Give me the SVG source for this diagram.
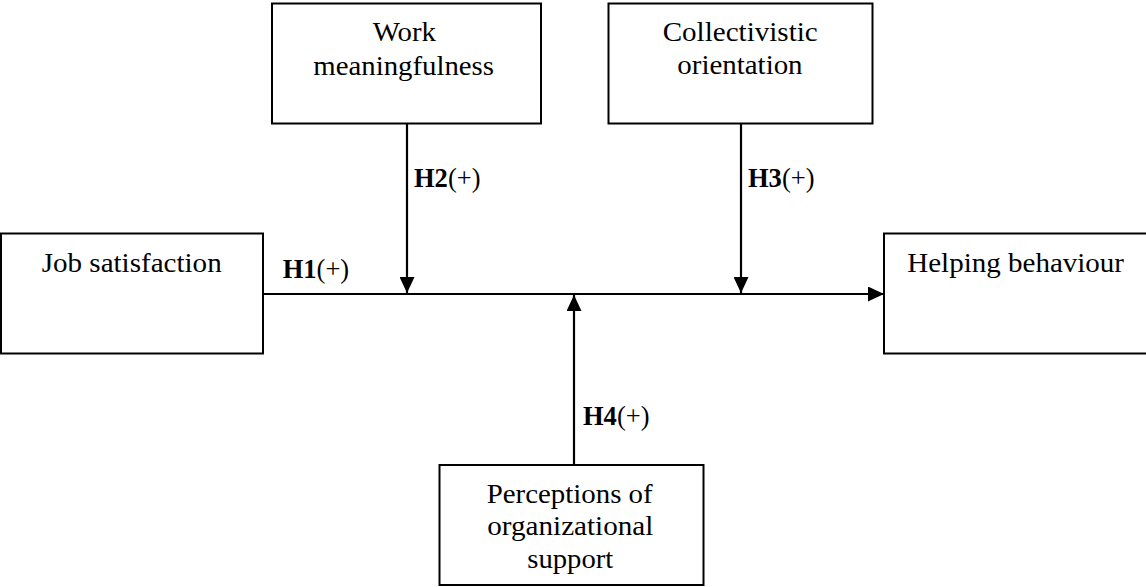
<svg xmlns="http://www.w3.org/2000/svg" width="1146" height="587" viewBox="0 0 1146 587">
<defs>
<style>
.box{fill:#fff;stroke:#000;stroke-width:2}
.t{font-family:"Liberation Serif","Times New Roman",serif;font-size:26.5px;fill:#000}
.lbl{font-family:"Liberation Serif","Times New Roman",serif;font-size:26.5px;fill:#000}
.b{font-weight:bold}
.edge{stroke:#000;stroke-width:2.2;fill:none;marker-end:url(#arr)}
</style>
<marker id="arr" markerUnits="userSpaceOnUse" markerWidth="16" markerHeight="15" refX="16" refY="7.5" orient="auto">
<path d="M0,0 L16,7.5 L0,15 z" fill="#000"/>
</marker>
</defs>
<rect width="1146" height="587" fill="#fff"/>
<g id="connectors">
<line class="edge" x1="263" y1="294" x2="884" y2="294"/>
<line class="edge" x1="407" y1="124" x2="407" y2="293"/>
<line class="edge" x1="741" y1="124" x2="741" y2="293"/>
<line class="edge" x1="574" y1="464" x2="574" y2="295"/>
<text class="lbl" x="282.7" y="278"><tspan class="b">H1</tspan>(+)</text>
<text class="lbl" x="414" y="187"><tspan class="b">H2</tspan>(+)</text>
<text class="lbl" x="748" y="187"><tspan class="b">H3</tspan>(+)</text>
<text class="lbl" x="583" y="425"><tspan class="b">H4</tspan>(+)</text>
</g>
<g id="work">
<rect class="box" x="272" y="3.5" width="269" height="120"/>
<text class="t" x="372.7" y="40.7" textLength="63.3" lengthAdjust="spacingAndGlyphs">Work</text>
<text class="t" x="313.3" y="75" textLength="180.7" lengthAdjust="spacingAndGlyphs">meaningfulness</text>
</g>
<g id="collectivistic">
<rect class="box" x="608.5" y="3.5" width="264" height="120"/>
<text class="t" x="662.7" y="40.7" textLength="155" lengthAdjust="spacingAndGlyphs">Collectivistic</text>
<text class="t" x="677.3" y="74" textLength="125.3" lengthAdjust="spacingAndGlyphs">orientation</text>
</g>
<g id="job">
<rect class="box" x="1" y="233.5" width="262" height="120"/>
<text class="t" x="41.7" y="271.7" textLength="180" lengthAdjust="spacingAndGlyphs">Job satisfaction</text>
</g>
<g id="helping">
<rect class="box" x="884" y="233.5" width="270" height="120"/>
<text class="t" x="907.3" y="271.7" textLength="216.7" lengthAdjust="spacingAndGlyphs">Helping behaviour</text>
</g>
<g id="support">
<rect class="box" x="439.5" y="465" width="264" height="120"/>
<text class="t" x="486.7" y="502.7" textLength="166" lengthAdjust="spacingAndGlyphs">Perceptions of</text>
<text class="t" x="487.3" y="535" textLength="166" lengthAdjust="spacingAndGlyphs">organizational</text>
<text class="t" x="527.3" y="568" textLength="86" lengthAdjust="spacingAndGlyphs">support</text>
</g>
</svg>
